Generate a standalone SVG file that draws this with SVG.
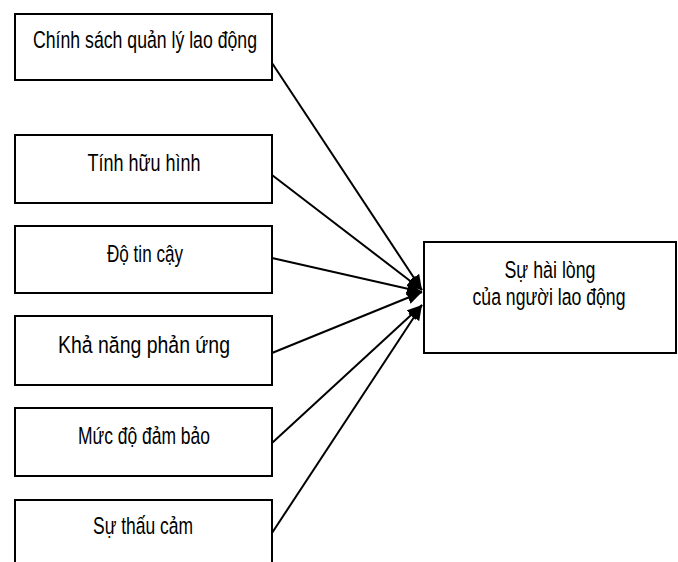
<svg xmlns="http://www.w3.org/2000/svg" width="678" height="562" viewBox="0 0 678 562">
<defs>
<style>
.box{fill:#fff;stroke:#000;stroke-width:2}
.t{font-family:"Liberation Sans","DejaVu Sans",sans-serif;font-size:24.5px;fill:#000;text-anchor:middle}
.c{stroke:#000;stroke-width:2;fill:none;marker-end:url(#ah)}
</style>
<marker id="ah" markerUnits="userSpaceOnUse" markerWidth="17" markerHeight="14" refX="15" refY="7" orient="auto">
<path d="M0,0.5 L15,7 L0,13.5 z" fill="#000"/>
</marker>
</defs>
<rect width="678" height="562" fill="#fff"/>
<g id="connectors">
<line class="c" x1="272" y1="63" x2="422" y2="290"/>
<line class="c" x1="272" y1="175" x2="422" y2="290"/>
<line class="c" x1="272" y1="258" x2="422" y2="292"/>
<line class="c" x1="272" y1="353" x2="422" y2="292"/>
<line class="c" x1="272" y1="443" x2="422" y2="305"/>
<line class="c" x1="272" y1="533" x2="422" y2="305"/>
</g>
<g id="n1"><rect class="box" x="15" y="14" width="257" height="66"/><text class="t" x="145" y="48" textLength="224" lengthAdjust="spacingAndGlyphs">Chính sách quản lý lao động</text></g>
<g id="n2"><rect class="box" x="15" y="135" width="257" height="68"/><text class="t" x="144" y="171" textLength="113" lengthAdjust="spacingAndGlyphs">Tính hữu hình</text></g>
<g id="n3"><rect class="box" x="15" y="226" width="257" height="67"/><text class="t" x="145" y="262" textLength="76" lengthAdjust="spacingAndGlyphs">Độ tin cậy</text></g>
<g id="n4"><rect class="box" x="15" y="316" width="257" height="69"/><text class="t" x="144" y="353" textLength="172" lengthAdjust="spacingAndGlyphs">Khả năng phản ứng</text></g>
<g id="n5"><rect class="box" x="15" y="408" width="257" height="68"/><text class="t" x="144" y="444" textLength="132" lengthAdjust="spacingAndGlyphs">Mức độ đảm bảo</text></g>
<g id="n6"><rect class="box" x="15" y="500" width="257" height="70"/><text class="t" x="143" y="534" textLength="100" lengthAdjust="spacingAndGlyphs">Sự thấu cảm</text></g>
<g id="n7"><rect class="box" x="424" y="242" width="252" height="111"/>
<text class="t" x="550" y="278" textLength="91" lengthAdjust="spacingAndGlyphs">Sự hài lòng</text>
<text class="t" x="549" y="305" textLength="153" lengthAdjust="spacingAndGlyphs">của người lao động</text></g>
</svg>
